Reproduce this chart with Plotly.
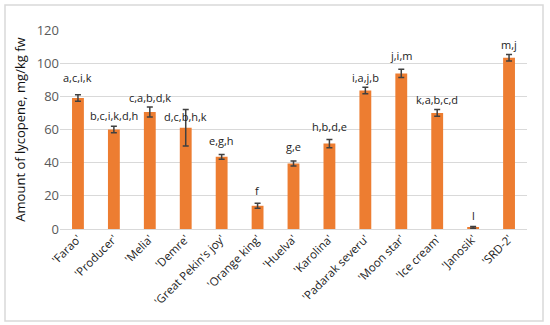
import plotly.graph_objects as go

categories = ["'Farao'", "'Producer'", "'Melia'", "'Demre'", "'Great Pekin's joy'",
              "'Orange king'", "'Huelva'", "'Karolina'", "'Padarak severu'",
              "'Moon star'", "'Ice cream'", "'Janosik'", "'SRD-2'"]
values = [79, 60, 70.5, 61, 43.5, 14, 39.5, 51.5, 83.5, 93.8, 70, 1, 103.3]
errors = [2, 2, 3, 11, 1.5, 1.5, 1.5, 2.5, 2, 2.5, 2, 0.5, 2]
letters = ["a,c,i,k", "b,c,i,k,d,h", "c,a,b,d,k", "d,c,b,h,k", "e,g,h", "f", "g,e",
           "h,b,d,e", "i,a,j,b", "j,i,m", "k,a,b,c,d", "l", "m,j"]

# pixel offsets of each letter label above its bar top (layout only)
label_shift_px = [20, 14, 15, 11, 16, 15, 17, 17.5, 13.5, 18, 13, 12, 13.5]

W, H = 550, 325
ml, mr, mt, mb = 60, 23, 30, 96

fig = go.Figure(go.Bar(
    x=categories, y=values,
    marker=dict(color="#ED7D31", line=dict(width=0)),
    error_y=dict(type="data", array=errors, visible=True, color="#404040",
                 thickness=1.5, width=3),
    width=0.33,
))

for c, v, t, s in zip(categories, values, letters, label_shift_px):
    fig.add_annotation(x=c, y=v, text=t, showarrow=False, yanchor="middle",
                       yshift=s, font=dict(family="Open Sans, Arial", size=11, color="#222"))

pw = W - ml - mr
ph = H - mt - mb
x0 = (5 - ml) / pw
x1 = (543 - ml) / pw
y1 = 1 + (mt - 5) / ph
y0 = -(321 - (H - mb)) / ph
fig.add_shape(type="rect", xref="paper", yref="paper", x0=x0, x1=x1, y0=y0, y1=y1,
              line=dict(color="#d9d9d9", width=1.5), layer="below")

fig.update_layout(
    width=W, height=H,
    margin=dict(l=ml, r=mr, t=mt, b=mb, autoexpand=False),
    plot_bgcolor="white", paper_bgcolor="white",
    showlegend=False,
    font=dict(family="Open Sans, Arial"),
    xaxis=dict(tickangle=-45, tickfont=dict(size=11.5, color="#222"), showline=False,
               ticks="", showgrid=False, automargin=False),
    yaxis=dict(range=[0, 120], dtick=20, gridcolor="#d9d9d9", gridwidth=1,
               zeroline=True, zerolinecolor="#d9d9d9", zerolinewidth=1,
               tickfont=dict(size=13, color="#595959"), ticks="", automargin=False,
               title=dict(text="Amount of lycopene, mg/kg fw",
                          font=dict(size=13, color="#111"), standoff=8)),
)

fig.write_html("out.html", config={"displayModeBar": False},
               post_script="document.body.style.margin='0';")
